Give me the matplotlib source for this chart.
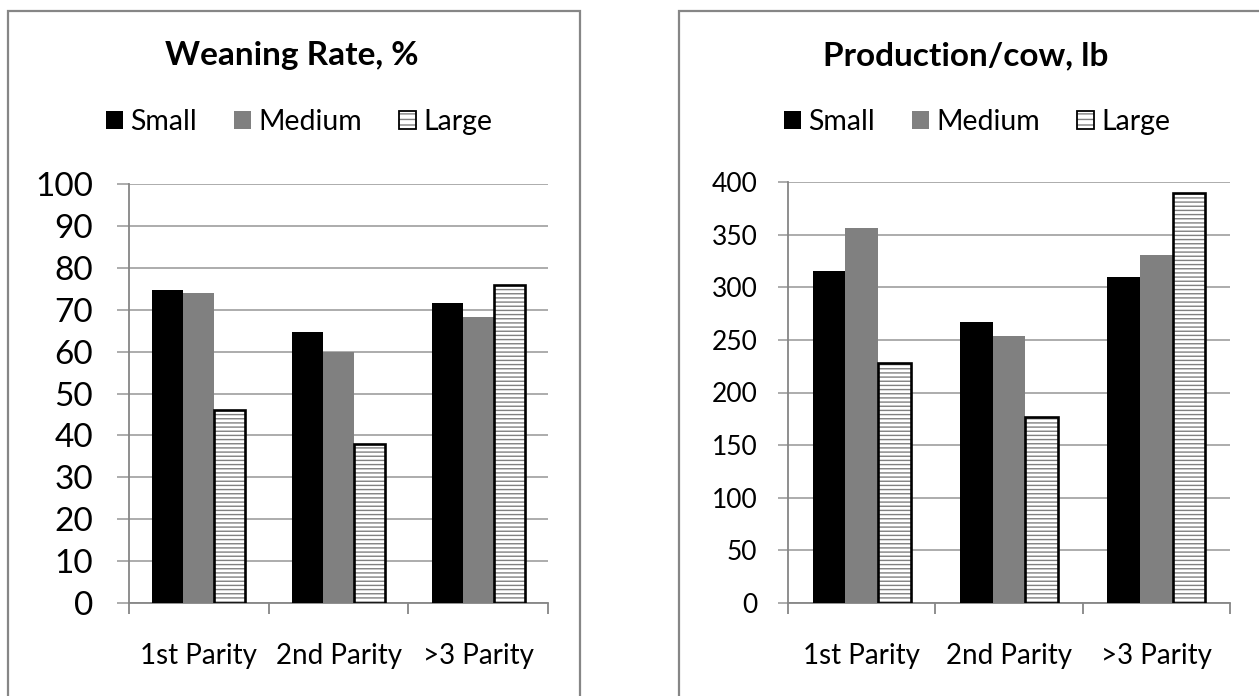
import matplotlib
matplotlib.use("Agg")
import matplotlib.pyplot as plt
from matplotlib.patches import Rectangle, Patch
from matplotlib.legend_handler import HandlerBase

plt.rcParams['font.family'] = ['Lato', 'DejaVu Sans']
plt.rcParams['hatch.linewidth'] = 1.0

categories = ["1st Parity", "2nd Parity", ">3 Parity"]
series = ["Small", "Medium", "Large"]

weaning_small = [74.7, 64.6, 71.6]
weaning_medium = [74.1, 59.8, 68.2]
weaning_large = [46.0, 38.0, 75.8]

prod_small = [315, 267, 310]
prod_medium = [356, 254, 331]
prod_large = [228, 177, 390]

W, H, DPI = 1259, 696, 100
fig = plt.figure(figsize=(W / DPI, H / DPI), dpi=DPI)

FRAME = "#868686"
GRID = "#a6a6a6"
colors = ["#000000", "#808080"]


def px_rect(x0, y0, x1, y1):
    return [x0 / W, 1 - y1 / H, (x1 - x0) / W, (y1 - y0) / H]


# outer chart-area borders
for x0, x1 in [(8, 580), (679, 1300)]:
    fig.patches.append(Rectangle((x0 / W, -0.1), (x1 - x0) / W, 1.1 - 11 / H,
                                 transform=fig.transFigure, fill=False,
                                 edgecolor=FRAME, linewidth=1.6))


class HatchBoxHandler(HandlerBase):
    def create_artists(self, legend, orig_handle, xdescent, ydescent,
                       width, height, fontsize, trans):
        s = min(width, height)
        x = -xdescent + (width - s) / 2
        y = -ydescent + (height - s) / 2
        inner = Rectangle((x, y), s, s, facecolor="white", edgecolor="#808080",
                          hatch="---", linewidth=0, transform=trans)
        outer = Rectangle((x, y), s, s, fill=False, edgecolor="black",
                          linewidth=1.3, transform=trans)
        return [inner, outer]


class BoxHandler(HandlerBase):
    def create_artists(self, legend, orig_handle, xdescent, ydescent,
                       width, height, fontsize, trans):
        s = min(width, height)
        x = -xdescent + (width - s) / 2
        y = -ydescent + (height - s) / 2
        return [Rectangle((x, y), s, s, facecolor=orig_handle.get_facecolor(),
                          linewidth=0, transform=trans)]


def panel(rect, title, small, medium, large, ymax, ystep, tick_fs, pad, ylen,
          title_center_x, legend_center_x):
    ax = fig.add_axes(rect)
    n = len(categories)
    w = 1 / 4.5
    xs = list(range(n))
    ax.bar([x - w for x in xs], small, width=w, color=colors[0], linewidth=0, zorder=3)
    ax.bar(xs, medium, width=w, color=colors[1], linewidth=0, zorder=3)
    ax.bar([x + w for x in xs], large, width=w, facecolor="white",
           edgecolor="#808080", hatch="----", linewidth=0, zorder=3)
    ax.bar([x + w for x in xs], large, width=w, fill=False,
           edgecolor="black", linewidth=1.9, zorder=4)

    ax.set_xlim(-0.5, n - 0.5)
    ax.set_ylim(0, ymax)
    ax.set_yticks(range(0, ymax + 1, ystep))
    ax.yaxis.grid(True, color=GRID, linewidth=1.3, zorder=0)
    ax.set_axisbelow(True)
    for s in ["top", "right"]:
        ax.spines[s].set_visible(False)
    for s in ["left", "bottom"]:
        ax.spines[s].set_color(FRAME)
        ax.spines[s].set_linewidth(1.3)
    ax.set_xticks([i - 0.5 for i in range(n + 1)])
    ax.set_xticklabels([])
    ax.set_xticks(xs, minor=True)
    ax.set_xticklabels(categories, minor=True)
    ax.tick_params(axis="x", which="major", length=8, width=1.3, color=FRAME,
                   direction="out")
    ax.tick_params(axis="x", which="minor", length=0, pad=29, labelsize=20)
    ax.tick_params(axis="y", length=ylen, width=1.3, color=GRID, direction="out",
                   labelsize=tick_fs, pad=pad)

    fig.text(title_center_x / W, 1 - 56 / H, title, ha="center", va="center",
             fontsize=24, fontweight="bold")

    handles = [Patch(facecolor=colors[0]), Patch(facecolor=colors[1]),
               Patch(facecolor="white")]
    fig.legend(handles, series, loc="center",
               bbox_to_anchor=(legend_center_x / W, 1 - 122 / H),
               ncol=3, frameon=False, fontsize=20.5, handlelength=0.6,
               handleheight=0.6, handletextpad=0.25, columnspacing=1.3,
               handler_map={handles[0]: BoxHandler(), handles[1]: BoxHandler(),
                            handles[2]: HatchBoxHandler()})
    return ax


panel(px_rect(129, 184, 548, 603), "Weaning Rate, %",
      weaning_small, weaning_medium, weaning_large, 100, 10, 24, 17, 9, 292, 299)
panel(px_rect(788, 182, 1230, 603), "Production/cow, lb",
      prod_small, prod_medium, prod_large, 400, 50, 19, 15, 7, 966, 977)

fig.savefig("out.png", dpi=DPI)
